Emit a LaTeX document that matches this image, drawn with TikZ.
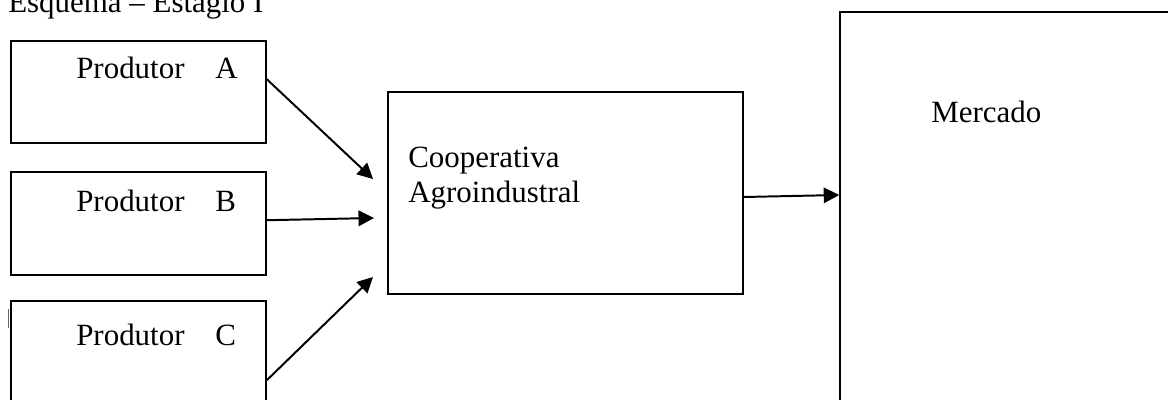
\documentclass[tikz,border=0pt]{standalone}
\usepackage{fontspec}
\setmainfont{Liberation Serif}
\usetikzlibrary{arrows.meta,calc}

\begin{document}
\begin{tikzpicture}[x=0.025cm,y=-0.025cm,
    font=\fontsize{22}{24.8}\selectfont,
    box/.style={draw=black,line width=1.1pt,inner sep=0pt},
    prodbox/.style={box,minimum width=6.375cm},
    boxtext/.style={anchor=base west,inner sep=0pt},
    flow/.style={line width=1.4pt,-{Triangle[length=11pt,width=11pt]}}]
  \useasboundingbox (0,0) rectangle (1168,400);
  \clip (0,0) rectangle (1168,400);
  % title
  \node[boxtext] (title) at (8,13) {Esquema -- Estágio I};
  % producers
  \node[prodbox,minimum height=2.55cm] (prodA) at (138.5,92) {};
  \node[prodbox,minimum height=2.575cm] (prodB) at (138.5,223.5) {};
  \node[prodbox,minimum height=2.975cm] (prodC) at (138.5,360.5) {};
  \node[boxtext] (labA) at (76,79) {Produtor\quad A};
  \node[boxtext] (labB) at (76,211) {Produtor\quad B};
  \node[boxtext] (labC) at (76,345) {Produtor\quad C};
  \draw[line width=0.4pt,black!60] (8,309) -- (8,328);
  % cooperative and market
  \node[box,minimum width=8.875cm,minimum height=5.05cm] (coop) at (565.5,193) {};
  \node[anchor=north west,inner sep=0pt,align=left] (labCoop) at (408,147)
    {Cooperativa\\Agroindustral};
  \node[box,minimum width=8.75cm,minimum height=10.2cm] (mercado) at (1015,216) {};
  \node[boxtext] (labMerc) at (931,123) {Mercado};
  % flows
  \coordinate (tipA) at (373,179);
  \coordinate (tipB) at (374,218);
  \coordinate (tipC) at (373,277);
  \draw[flow] ($(prodA.north east)+(0,39)$) -- (tipA);
  \draw[flow] ($(prodB.north east)+(0,49)$) -- (tipB);
  \draw[flow] ($(prodC.north east)+(0,80)$) -- (tipC);
  \draw[flow] ($(coop.east)+(0,4)$) -- ($(mercado.west |- coop.east)+(0,2)$);
\end{tikzpicture}
\end{document}
